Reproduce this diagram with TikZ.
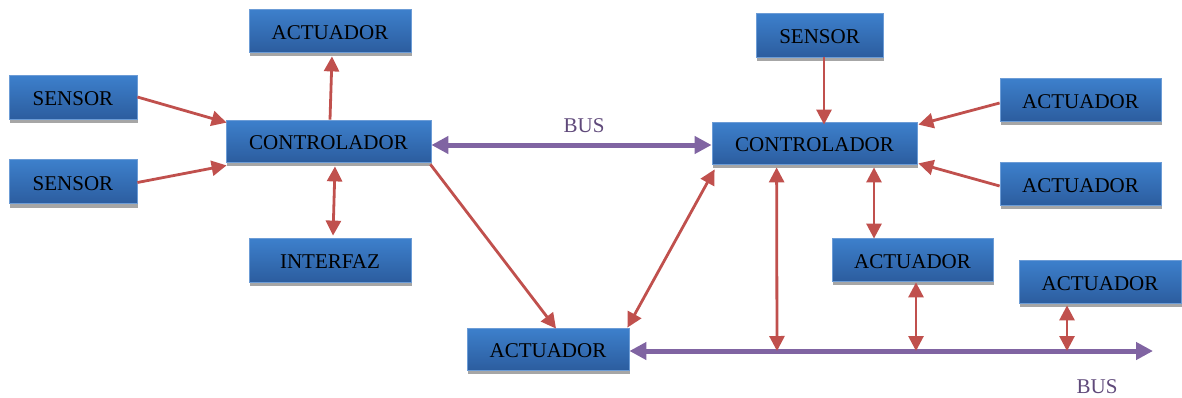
\documentclass[tikz,border=0pt]{standalone}
\usepackage{fontspec}
\setmainfont{Liberation Serif}
\usetikzlibrary{arrows.meta,shadows,calc}
\definecolor{boxtop}{HTML}{3D80CC}
\definecolor{boxbot}{HTML}{2C5D9F}
\definecolor{boxedge}{HTML}{6C9CD6}
\definecolor{boxshadow}{HTML}{A6A6A6}
\definecolor{sigred}{HTML}{C0504D}
\definecolor{buspurple}{HTML}{8064A2}
\definecolor{bustext}{HTML}{5F497A}
\begin{document}
\begin{tikzpicture}[x=1pt,y=-1pt,
  blk/.style={rectangle, draw=boxedge, line width=0.8pt,
    top color=boxtop, bottom color=boxbot,
    general shadow={fill=boxshadow, shadow xshift=1pt, shadow yshift=-4pt},
    inner sep=0pt, font=\fontsize{21}{25}\selectfont, text=black,
    text height=17.5pt, text depth=0pt},
  sig/.style={draw=sigred, line width=2.8pt, -{Triangle[length=15pt,width=15pt]}},
  sig2/.style={draw=sigred, line width=2.8pt,
    {Triangle[length=15pt,width=15pt]}-{Triangle[length=15pt,width=15pt]}},
  bus/.style={draw=buspurple, line width=5pt,
    {Triangle[length=17pt,width=17pt]}-{Triangle[length=17pt,width=17pt]}},
  buslabel/.style={text=bustext, font=\fontsize{21}{25}\selectfont, inner sep=0pt}]
\useasboundingbox (0,0) rectangle (1182,397);

% left cell
\node[blk, minimum width=162pt, minimum height=43pt] (aTL) at (330,30.5) {ACTUADOR};
\node[blk, minimum width=128pt, minimum height=44pt] (s1) at (73,97) {SENSOR};
\node[blk, minimum width=128pt, minimum height=44pt] (s2) at (73,181.5) {SENSOR};
\node[blk, minimum width=205pt, minimum height=42pt] (cL) at (328.5,141) {CONTROLADOR};
\node[blk, minimum width=162pt, minimum height=44pt] (intf) at (330,260) {INTERFAZ};

% shared actuator
\node[blk, minimum width=162pt, minimum height=42pt] (aB) at (548,349) {ACTUADOR};

% right cell
\node[blk, minimum width=205pt, minimum height=42pt] (cR) at (814.5,143) {CONTROLADOR};
\node[blk, minimum width=127pt, minimum height=44pt] (sR) at (819.5,35) {SENSOR};
\node[blk, minimum width=161pt, minimum height=43pt] (a1) at (1080.5,99.5) {ACTUADOR};
\node[blk, minimum width=161pt, minimum height=43pt] (a2) at (1080.5,183.5) {ACTUADOR};
\node[blk, minimum width=161pt, minimum height=43pt] (a3) at (912.5,259.5) {ACTUADOR};
\node[blk, minimum width=162pt, minimum height=43pt] (a4) at (1100,281.5) {ACTUADOR};

% left cell signals
\draw[sig] (s1.east) -- ($(cL.north west)+(1,3)$);
\draw[sig] ($(s2.east)+(0,1)$) -- ($(cL.south west)+(1,3)$);
\draw[sig] ($(cL.north)+(1.5,0)$) -- ($(aTL.south)+(2,4)$);
\draw[sig2] ($(intf.north)+(3,-2)$) -- ($(cL.south)+(6.5,4)$);
\draw[sig] ($(cL.south east)+(-1,2)$) -- ($(aB.north)+(8,1)$);
\draw[sig2] ($(aB.north east)+(-2,0)$) -- ($(cR.south west)+(3,5)$);

% bus between controllers
\draw[bus] ($(cL.east)+(0,4)$) -- ($(cR.west)+(0,2)$);
\node[buslabel] (busT) at (584,126) {BUS};

% right cell signals
\draw[sig] ($(sR.south)+(4.5,0)$) -- ($(cR.north)+(9.5,3)$);
\draw[sig] ($(a1.west)+(0,3.5)$) -- ($(cR.north east)+(1,3)$);
\draw[sig] ($(a2.west)+(0,2.5)$) -- ($(cR.south east)+(1,-1)$);

% field bus
\coordinate (busend) at (1153,351);
\coordinate (tapA) at (777,351);
\coordinate (tapB) at (916,351);
\coordinate (tapC) at (1067,351);
\draw[bus] ($(aB.east)+(0,2)$) -- (busend);
\node[buslabel] (busB) at (1097,387) {BUS};

\draw[sig2] ($(cR.south west)+(65,3)$) -- (tapA);
\draw[sig2] ($(cR.south)+(59.5,3)$) -- ($(a3.north)+(-38.5,1)$);
\draw[sig2] ($(a3.south)+(3.5,1)$) -- (tapB);
\draw[sig2] ($(a4.south)+(-33,2)$) -- (tapC);
\end{tikzpicture}
\end{document}
